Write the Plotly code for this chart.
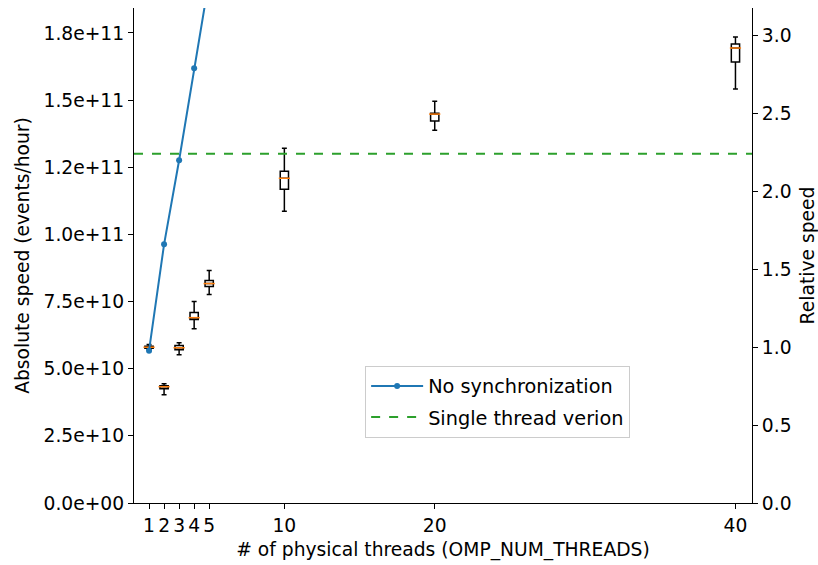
import plotly.graph_objects as go

# ---- data ----
threads = [1, 2, 3, 4, 5, 10, 20, 40]
# box statistics (events/hour)
box_upper = [5.90e10, 4.44e10, 5.97e10, 7.50e10, 8.66e10, 13.21e10, 14.96e10, 17.35e10]
box_q3 = [5.84e10, 4.37e10, 5.86e10, 7.09e10, 8.28e10, 12.35e10, 14.51e10, 17.09e10]
box_median = [5.80e10, 4.33e10, 5.78e10, 6.90e10, 8.17e10, 12.09e10, 14.48e10, 16.94e10]
box_q1 = [5.76e10, 4.25e10, 5.71e10, 6.83e10, 8.06e10, 11.68e10, 14.22e10, 16.42e10]
box_lower = [5.72e10, 4.03e10, 5.52e10, 6.49e10, 7.76e10, 10.86e10, 13.88e10, 15.41e10]

# "No synchronization" line (points beyond 4 threads are above the visible range)
nosync_x = [1, 2, 3, 4, 5, 10, 20, 40]
nosync_y = [5.67e10, 9.63e10, 12.76e10, 16.19e10, 19.5e10, 35e10, 65e10, 120e10]

single_thread_value = 13.0e10

ytick_vals = [0, 2.5e10, 5.0e10, 7.5e10, 1.0e11, 1.25e11, 1.5e11, 1.75e11]
ytick_text = ["0.0e+00", "2.5e+10", "5.0e+10", "7.5e+10", "1.0e+11", "1.2e+11", "1.5e+11", "1.8e+11"]
rel_ticks = [0.0, 0.5, 1.0, 1.5, 2.0, 2.5, 3.0]
xtick_vals = [1, 2, 3, 4, 5, 10, 20, 40]

x_range = [0.0, 41.1]
y_top = 1.843e11
base = box_median[0]

FONT = "DejaVu Sans"
FS = 18.7
LFS = 19.3
BLUE = "#1f77b4"
ORANGE = "#ff7f0e"
GREEN = "#2ca02c"

fig = go.Figure()

fig.add_trace(go.Box(
    x=threads, q1=box_q1, median=box_median, q3=box_q3,
    lowerfence=box_lower, upperfence=box_upper,
    width=0.55, whiskerwidth=0.6,
    fillcolor="white", line=dict(color="black", width=1.5),
    boxpoints=False, showlegend=False, hoverinfo="skip",
))

fig.add_trace(go.Scatter(
    x=threads, y=box_median, mode="markers", showlegend=False,
    marker=dict(symbol="line-ew", size=8, color=ORANGE,
                line=dict(color=ORANGE, width=1.5)),
    hoverinfo="skip",
))

fig.add_trace(go.Scatter(
    x=nosync_x, y=nosync_y, mode="lines+markers", name="No synchronization",
    legendgroup="a",
    line=dict(color=BLUE, width=2), marker=dict(color=BLUE, size=6),
))

fig.add_trace(go.Scatter(
    x=x_range, y=[single_thread_value, single_thread_value], mode="lines",
    name="Single thread verion", legendgroup="b",
    line=dict(color=GREEN, width=2, dash="dash"),
))

# invisible trace to activate the right axis
fig.add_trace(go.Scatter(x=[], y=[], yaxis="y2", showlegend=False))

axis_common = dict(
    showline=True, linecolor="black", linewidth=1.2,
    ticks="outside", ticklen=5, tickwidth=1.2, tickcolor="black",
    showgrid=False, zeroline=False, automargin=False,
    tickfont=dict(family=FONT, size=FS, color="black"),
)

fig.update_layout(
    width=818, height=565,
    margin=dict(l=134, r=66, t=8, b=62),
    paper_bgcolor="white", plot_bgcolor="white",
    font=dict(family=FONT, size=FS, color="black"),
    xaxis=dict(
        range=x_range, tickmode="array", tickvals=xtick_vals,
        title=dict(text="# of physical threads (OMP_NUM_THREADS)",
                   font=dict(family=FONT, size=FS), standoff=8),
        **axis_common,
    ),
    yaxis=dict(
        range=[0, y_top], tickmode="array", tickvals=ytick_vals, ticktext=ytick_text,
        title=dict(text="Absolute speed (events/hour)",
                   font=dict(family=FONT, size=FS), standoff=8),
        **axis_common,
    ),
    yaxis2=dict(
        range=[0, y_top / base], overlaying="y", side="right",
        tickmode="array", tickvals=rel_ticks,
        ticktext=[f"{v:.1f}" for v in rel_ticks],
        title=dict(text="Relative speed", font=dict(family=FONT, size=FS), standoff=13),
        **axis_common,
    ),
    legend=dict(
        x=0.374, y=0.277, xanchor="left", yanchor="top",
        bgcolor="white", bordercolor="#cccccc", borderwidth=1,
        font=dict(family=FONT, size=LFS), itemwidth=52, tracegroupgap=3,
    ),
)

fig.write_html("out.html",
               config={"displayModeBar": False},
               post_script="document.body.style.margin='0';document.body.style.overflow='hidden';")
